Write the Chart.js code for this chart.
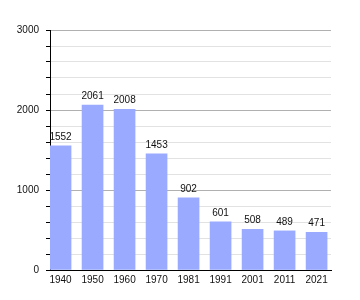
<!DOCTYPE html>
<html>
<head>
<meta charset="utf-8">
<script src="https://cdn.jsdelivr.net/npm/chart.js@4/dist/chart.umd.min.js"></script>
<style>
  html, body { margin: 0; padding: 0; background: #fff; }
  #wrap { width: 360px; height: 300px; }
</style>
</head>
<body>
<div id="wrap"><canvas id="chart" width="360" height="300"></canvas></div>
<script>
// Population by census year
const years = ["1940", "1950", "1960", "1970", "1981", "1991", "2001", "2011", "2021"];
const population = [1552, 2061, 2008, 1453, 902, 601, 508, 489, 471];
const yTicks = [0, 1000, 2000, 3000];

const positions = years.map((y, i) => i);

// Draw the value above each bar
const valueLabels = {
  id: "valueLabels",
  afterDatasetsDraw(chart) {
    const ctx = chart.ctx;
    const meta = chart.getDatasetMeta(0);
    ctx.save();
    ctx.font = "10px 'Liberation Sans', Arial, sans-serif";
    ctx.fillStyle = "#111";
    ctx.textAlign = "center";
    ctx.textBaseline = "bottom";
    meta.data.forEach((bar, i) => {
      ctx.fillText(String(population[i]), bar.x, bar.y - 4);
    });
    ctx.restore();
  }
};

new Chart(document.getElementById("chart"), {
  type: "bar",
  data: {
    datasets: [{
      data: positions.map((p, i) => ({ x: p, y: population[i] })),
      backgroundColor: "#99aaff",
      borderWidth: 0,
      barThickness: 21
    }]
  },
  options: {
    responsive: false,
    animation: false,
    layout: { padding: { top: 30, right: 29, left: 0, bottom: 0 } },
    plugins: { legend: { display: false }, tooltip: { enabled: false } },
    scales: {
      x: {
        type: "linear",
        offset: false,
        min: -0.33,
        max: 8.45,
        afterFit: (s) => { s.height = 30; },
        border: { color: "#000", width: 1 },
        grid: { display: false, drawTicks: false, offset: false },
        ticks: {
          stepSize: 1,
          includeBounds: false,
          autoSkip: false,
          maxRotation: 0,
          padding: 4,
          color: "#111",
          font: { family: "'Liberation Sans', Arial, sans-serif", size: 10 },
          callback: (v) => years[v] !== undefined && Number.isInteger(v) ? years[v] : ""
        }
      },
      y: {
        min: 0,
        max: 3000,
        afterFit: (s) => { s.width = 50; },
        border: { color: "#000", width: 1 },
        grid: {
          color: (c) => c.tick && yTicks.includes(c.tick.value) ? "#b0b0b0" : "#e2e2e2",
          tickColor: "#000",
          tickLength: 4
        },
        ticks: {
          stepSize: 200,
          autoSkip: false,
          padding: 7,
          color: "#111",
          font: { family: "'Liberation Sans', Arial, sans-serif", size: 10 },
          callback: (v) => yTicks.includes(v) ? String(v) : ""
        }
      }
    }
  },
  plugins: [valueLabels]
});
</script>
</body>
</html>
